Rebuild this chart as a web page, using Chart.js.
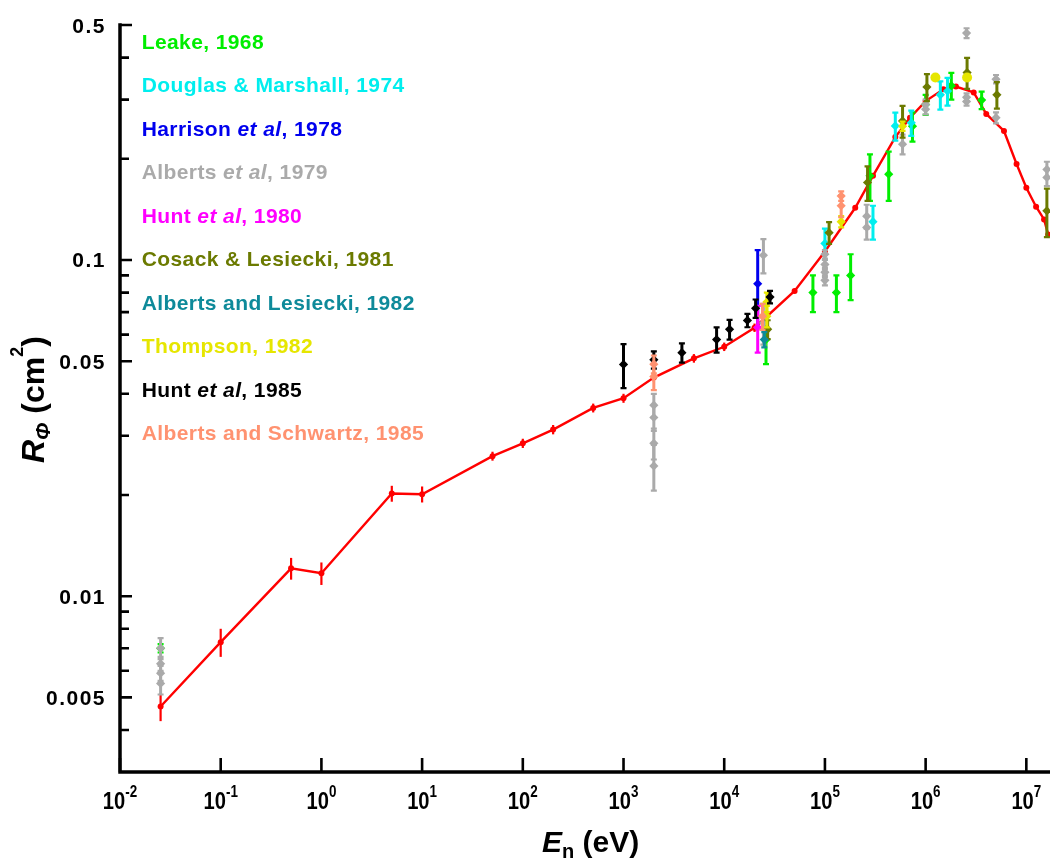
<!DOCTYPE html>
<html><head><meta charset="utf-8">
<script src="https://cdn.jsdelivr.net/npm/chart.js@4/dist/chart.umd.min.js"></script>
<style>html,body{margin:0;padding:0;background:#fff}</style>
</head><body>
<canvas id="c" width="1050" height="859"></canvas>
<script>
// ---------------- axis ticks ----------------
const xMajorTicks = [1e-2, 1e-1, 1e0, 1e1, 1e2, 1e3, 1e4, 1e5, 1e6, 1e7];
const xTickExponents = ['-2', '-1', '0', '1', '2', '3', '4', '5', '6', '7'];
const yMajorTicks = [0.5, 0.1, 0.05, 0.01, 0.005];
const yTickLabels = ['0.5', '0.1', '0.05', '0.01', '0.005'];
const yMinorTicks = [0.4, 0.3, 0.2, 0.09, 0.08, 0.07, 0.06, 0.04, 0.03, 0.02, 0.009, 0.008, 0.007, 0.006, 0.004];

// ---------------- evaluated curve (red) ----------------
const evalE = [0.0253, 0.1, 0.5, 1, 5, 10, 50, 100, 200, 500, 1000, 2000, 5000, 1e4, 2e4, 5e4, 1e5, 2e5, 3e5, 5e5, 7e5, 1e6, 1.5e6, 2e6, 3e6, 4e6, 6e6, 8e6, 1e7, 1.25e7, 1.5e7, 1.65e7];
const evalR = [0.0047, 0.0073, 0.0121, 0.0117, 0.0202, 0.0201, 0.0261, 0.0285, 0.0313, 0.0363, 0.0388, 0.0447, 0.0510, 0.0552, 0.0629, 0.0809, 0.106, 0.143, 0.178, 0.232, 0.265, 0.297, 0.322, 0.328, 0.315, 0.272, 0.242, 0.193, 0.164, 0.144, 0.132, 0.119];
const evalErr = [0.00045, 0.0007, 0.0009, 0.0009, 0.0011, 0.0011, 0.0008, 0.0009, 0.001, 0.0011, 0.0012, 0.0013, 0.0015, 0.0016, 0.0018, 0.001, 0, 0, 0, 0, 0, 0, 0, 0, 0, 0, 0, 0, 0, 0, 0, 0];

// ---------------- measurements ----------------
const leakeE = [0.0253, 2.6e4, 7.6e4, 1.3e5, 1.8e5, 2.8e5, 4.3e5, 7.4e5, 1e6, 1.8e6, 3.6e6];
const leakeR = [0.0070, 0.058, 0.080, 0.080, 0.090, 0.178, 0.180, 0.250, 0.29, 0.330, 0.299];
const leakeErr = [0.0002, 0.009, 0.010, 0.010, 0.014, 0.028, 0.030, 0.025, 0.02, 0.030, 0.018];

const douglasE = [1e5, 3e5, 5e5, 7.2e5, 1.4e6, 1.65e6];
const douglasR = [0.112, 0.130, 0.2505, 0.256, 0.31, 0.318];
const douglasErr = [0.012, 0.015, 0.024, 0.022, 0.03, 0.03];

const harrisonE = [2.15e4];
const harrisonR = [0.085];
const harrisonErr = [0.022];

const alberts79E = [0.0253, 0.0253, 0.0253, 0.0253, 2000, 2000, 2000, 2000, 2.45e4, 2.45e4, 1e5, 1e5, 1e5, 1e5, 2.6e5, 2.6e5, 5.9e5, 1e6, 1e6, 2.55e6, 2.55e6, 2.55e6, 5e6, 5e6, 1.6e7, 1.6e7];
const alberts79R = [0.0070, 0.0063, 0.0059, 0.0055, 0.037, 0.034, 0.0285, 0.0244, 0.1033, 0.065, 0.104, 0.097, 0.092, 0.087, 0.135, 0.125, 0.221, 0.29, 0.281, 0.473, 0.305, 0.296, 0.345, 0.265, 0.186, 0.176];
const alberts79Err = [0.0005, 0.0003, 0.0003, 0.0004, 0.003, 0.003, 0.003, 0.0038, 0.012, 0.009, 0.003, 0.003, 0.003, 0.003, 0.011, 0.01, 0.015, 0.01, 0.01, 0.016, 0.008, 0.008, 0.01, 0.01, 0.01, 0.01];

const hunt80E = [2.15e4];
const hunt80R = [0.063];
const hunt80Err = [0.010];

const cosackE = [2.7e4, 1.1e5, 2.65e5, 5.9e5, 1.03e6, 2.58e6, 5.1e6, 1.6e7];
const cosackR = [0.0622, 0.1206, 0.170, 0.2593, 0.327, 0.361, 0.31, 0.14];
const cosackErr = [0.004, 0.009, 0.02, 0.028, 0.03, 0.038, 0.028, 0.023];

const albLesE = [2.5e4];
const albLesR = [0.058];
const albLesErr = [0.003];

const thompsonE = [2.65e4, 2.65e4, 1.45e5, 5.9e5, 1.25e6, 2.58e6];
const thompsonR = [0.075, 0.068, 0.130, 0.250, 0.349, 0.349];
const thompsonErr = [0.005, 0.005, 0.005, 0.008, 0, 0];

const hunt85E = [1000, 2000, 3800, 8400, 1.13e4, 1.7e4, 2.05e4, 2.85e4];
const hunt85R = [0.0489, 0.0505, 0.053, 0.058, 0.0622, 0.0661, 0.0718, 0.0776];
const hunt85Err = [0.0073, 0.003, 0.0035, 0.005, 0.0042, 0.003, 0.0045, 0.0033];

const albSchE = [2000, 2000, 2.4e4, 1.45e5, 1.45e5];
const albSchR = [0.049, 0.045, 0.068, 0.155, 0.145];
const albSchErr = [0.003, 0.004, 0.006, 0.005, 0.011];

// ---------------- legend ----------------
const legendLabels = [
  [['Leake, 1968', 0]],
  [['Douglas & Marshall, 1974', 0]],
  [['Harrison ', 0], ['et al', 1], [', 1978', 0]],
  [['Alberts ', 0], ['et al', 1], [', 1979', 0]],
  [['Hunt ', 0], ['et al', 1], [', 1980', 0]],
  [['Cosack & Lesiecki, 1981', 0]],
  [['Alberts and Lesiecki, 1982', 0]],
  [['Thompson, 1982', 0]],
  [['Hunt ', 0], ['et al', 1], [', 1985', 0]],
  [['Alberts and Schwartz, 1985', 0]]
];
const legendColors = ['#00ee00', '#00eeee', '#0000ee', '#aaaaaa', '#ff00ff', '#6b7a00', '#0e8a9a', '#e6e600', '#000000', '#ff9270'];

const FONT = '"Liberation Sans", Arial, sans-serif';

function pts(xs, ys) { return xs.map((x, i) => ({ x: x, y: ys[i] })); }
function meas(label, xs, ys, errs, color, order, extra) {
  return Object.assign({
    label: label, data: pts(xs, ys), errs: errs, cap: 3,
    borderColor: color, backgroundColor: color,
    pointStyle: 'rectRot', pointRadius: 4.6, pointBorderWidth: 0, pointHoverRadius: 4.6,
    showLine: false, order: order
  }, extra || {});
}

const datasets = [
  Object.assign({
    label: 'Evaluation', data: pts(evalE, evalR), errs: evalErr, cap: 0, errWidth: 2.2,
    borderColor: '#ff0000', backgroundColor: '#ff0000', borderWidth: 2.4,
    pointStyle: 'circle', pointRadius: 3, pointBorderWidth: 0, showLine: true, tension: 0, order: 100
  }),
  meas('Leake, 1968', leakeE, leakeR, leakeErr, legendColors[0], 20),
  meas('Douglas & Marshall, 1974', douglasE, douglasR, douglasErr, legendColors[1], 19),
  meas('Harrison et al, 1978', harrisonE, harrisonR, harrisonErr, legendColors[2], 18),
  meas('Alberts et al, 1979', alberts79E, alberts79R, alberts79Err, legendColors[3], 17),
  meas('Hunt et al, 1980', hunt80E, hunt80R, hunt80Err, legendColors[4], 16),
  meas('Cosack & Lesiecki, 1981', cosackE, cosackR, cosackErr, legendColors[5], 15),
  meas('Alberts and Lesiecki, 1982', albLesE, albLesR, albLesErr, legendColors[6], 14),
  meas('Thompson, 1982', thompsonE, thompsonR, thompsonErr, legendColors[7], 13,
       { pointStyle: ['rectRot', 'rectRot', 'rectRot', 'rectRot', 'circle', 'circle'], pointRadius: [4.6, 4.6, 4.6, 4.6, 5, 5] }),
  meas('Hunt et al, 1985', hunt85E, hunt85R, hunt85Err, legendColors[8], 12),
  meas('Alberts and Schwartz, 1985', albSchE, albSchR, albSchErr, legendColors[9], 11)
];

const errorBars = {
  id: 'errorBars',
  beforeDatasetDraw(chart, args) {
    const ds = chart.data.datasets[args.index];
    if (!ds.errs) return;
    const ys = chart.scales.y, ctx = chart.ctx, a = chart.chartArea;
    ctx.save();
    ctx.beginPath(); ctx.rect(a.left, a.top - 10, a.right - a.left, a.bottom - a.top + 10); ctx.clip();
    ctx.strokeStyle = ds.borderColor; ctx.lineWidth = ds.errWidth || 3; ctx.lineCap = 'butt';
    args.meta.data.forEach((el, i) => {
      const d = ds.data[i], e = ds.errs[i];
      if (!e) return;
      const top = ys.getPixelForValue(d.y + e), bot = ys.getPixelForValue(d.y - e);
      ctx.beginPath();
      ctx.moveTo(el.x, top); ctx.lineTo(el.x, bot);
      ctx.stroke();
      if (ds.cap) {
        ctx.lineWidth = 2.2;
        ctx.beginPath();
        ctx.moveTo(el.x - ds.cap, top); ctx.lineTo(el.x + ds.cap, top);
        ctx.moveTo(el.x - ds.cap, bot); ctx.lineTo(el.x + ds.cap, bot);
        ctx.stroke();
        ctx.lineWidth = ds.errWidth || 3;
      }
    });
    ctx.restore();
  }
};

function drawRich(ctx, segs, x, y) {
  let cx = x;
  segs.forEach(s => { ctx.font = s.f; ctx.fillText(s.t, cx, y + (s.dy || 0)); cx += ctx.measureText(s.t).width; });
  return cx - x;
}
function richWidth(ctx, segs) {
  let w = 0; segs.forEach(s => { ctx.font = s.f; w += ctx.measureText(s.t).width; }); return w;
}

const decor = {
  id: 'decor',
  afterDraw(chart) {
    const ctx = chart.ctx, a = chart.chartArea, xs = chart.scales.x, ys = chart.scales.y;
    ctx.save();
    ctx.strokeStyle = '#000'; ctx.fillStyle = '#000';
    // axis lines
    ctx.lineWidth = 3.5; ctx.lineCap = 'square';
    ctx.beginPath(); ctx.moveTo(a.left, a.top); ctx.lineTo(a.left, a.bottom); ctx.lineTo(a.right, a.bottom); ctx.stroke();
    ctx.lineCap = 'butt'; ctx.lineWidth = 2.6;
    // ticks
    ctx.beginPath();
    yMajorTicks.forEach(v => { const p = ys.getPixelForValue(v); ctx.moveTo(a.left, p); ctx.lineTo(a.left + 12, p); });
    yMinorTicks.forEach(v => { const p = ys.getPixelForValue(v); ctx.moveTo(a.left, p); ctx.lineTo(a.left + 9, p); });
    xMajorTicks.forEach(v => { const p = xs.getPixelForValue(v); ctx.moveTo(p, a.bottom); ctx.lineTo(p, a.bottom - 14); });
    ctx.stroke();
    // y tick labels
    ctx.font = 'bold 21px ' + FONT; ctx.textAlign = 'right'; ctx.textBaseline = 'alphabetic';
    ctx.letterSpacing = '1.5px';
    yMajorTicks.forEach((v, i) => { const p = ys.getPixelForValue(v); ctx.fillText(yTickLabels[i], 106, p + 7.5); });
    ctx.letterSpacing = '0px';
    // x tick labels with superscripts (condensed)
    ctx.textAlign = 'left';
    xMajorTicks.forEach((v, i) => {
      const p = xs.getPixelForValue(v);
      const segs = [{ t: '10', f: 'bold 24px ' + FONT }, { t: xTickExponents[i], f: 'bold 16px ' + FONT, dy: -12 }];
      const w = richWidth(ctx, segs) * 0.84;
      ctx.save(); ctx.translate(p - w / 2, 808.5); ctx.scale(0.84, 1);
      drawRich(ctx, segs, 0, 0);
      ctx.restore();
    });
    // x title
    const xt = [{ t: 'E', f: 'italic bold 30px ' + FONT }, { t: 'n', f: 'bold 20px ' + FONT, dy: 6 }, { t: ' (eV)', f: 'bold 30px ' + FONT }];
    drawRich(ctx, xt, 542, 852);
    // y title (rotated)
    const yt = [{ t: 'R', f: 'italic bold 32px ' + FONT }, { t: '\u03A6', f: 'italic bold 21px ' + FONT, dy: 6 },
                { t: ' (cm', f: 'bold 32px ' + FONT }, { t: '2', f: 'bold 18px ' + FONT, dy: -21 }, { t: ')', f: 'bold 32px ' + FONT }];
    ctx.save(); ctx.translate(44, 463); ctx.rotate(-Math.PI / 2); drawRich(ctx, yt, 0, 0); ctx.restore();
    // legend
    ctx.letterSpacing = '0.4px';
    legendLabels.forEach((segs, i) => {
      ctx.fillStyle = legendColors[i];
      drawRich(ctx, segs.map(s => ({ t: s[0], f: (s[1] ? 'italic ' : '') + 'bold 21px ' + FONT })), 141.7, 49 + i * 43.45);
    });
    ctx.restore();
  }
};

new Chart(document.getElementById('c'), {
  type: 'scatter',
  data: { datasets: datasets },
  options: {
    responsive: false, animation: false, devicePixelRatio: 1,
    layout: { autoPadding: false, padding: { left: 120, right: 0, top: 25, bottom: 87 } },
    scales: {
      x: { type: 'logarithmic', min: 0.01, max: 1.718e7, display: false },
      y: { type: 'logarithmic', min: 0.003, max: 0.5, display: false }
    },
    plugins: { legend: { display: false }, tooltip: { enabled: false } },
    events: []
  },
  plugins: [errorBars, decor]
});
</script>
</body></html>
